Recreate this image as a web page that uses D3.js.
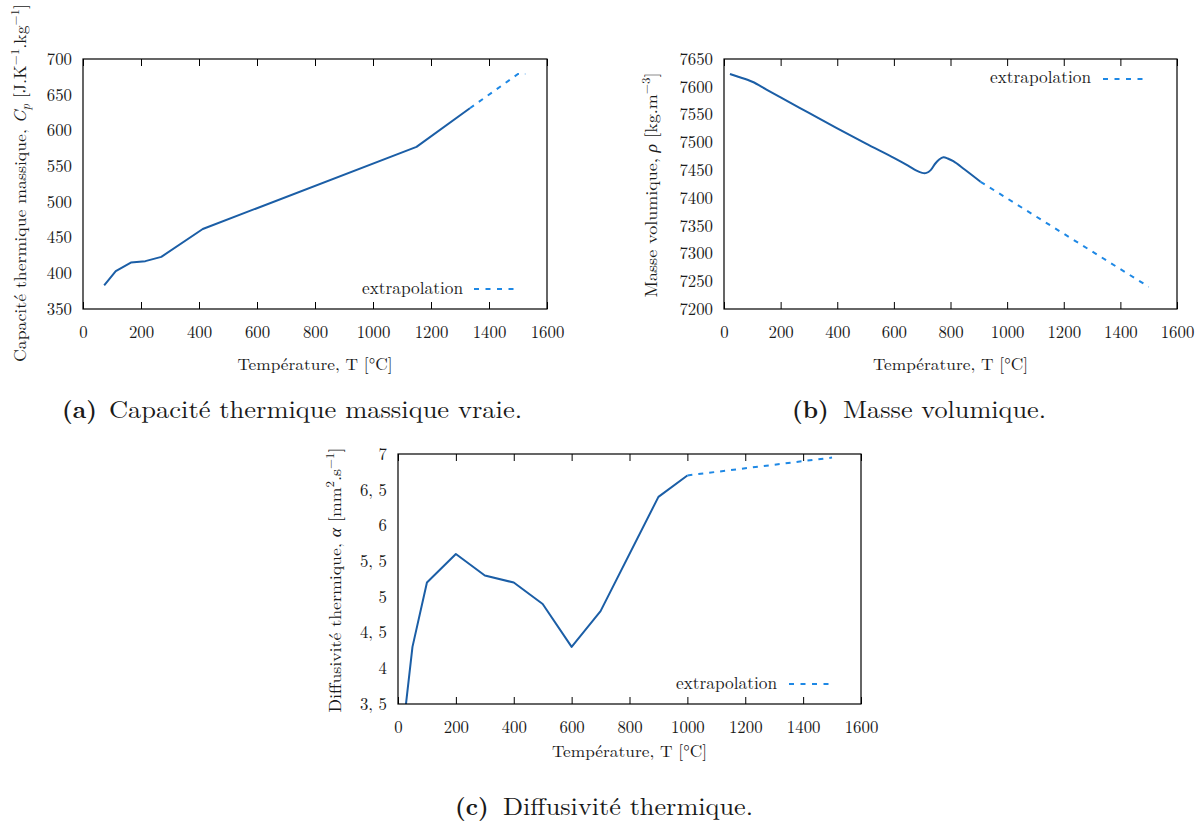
<!DOCTYPE html>
<html><head><meta charset="utf-8">
<script src="https://cdn.jsdelivr.net/npm/d3@7"></script>
<style>
body{margin:0;background:#fff}
svg{display:block}
</style>
</head><body>
<svg id="chart" width="1200" height="822"></svg>
<script>
// ---------- data ----------
const tempTicks = [0,200,400,600,800,1000,1200,1400,1600];
const cpTicks = [350,400,450,500,550,600,650,700];
const rhoTicks = [7200,7250,7300,7350,7400,7450,7500,7550,7600,7650];
const alphaTicks = [3.5,4,4.5,5,5.5,6,6.5,7];
const alphaTickLabels = ["3, 5","4","4, 5","5","5, 5","6","6, 5","7"];

const cpTemp = [73,113,165,215,270,413,1150,1334];
const cpVal  = [383,403,415,417,423,462,577,631];
const cpExtTemp = [1334,1500,1525];
const cpExtVal  = [631,679,679];

const rhoTemp = [21,50,100,150,200,300,400,500,600,650,680,700,715,730,745,760,775,790,810,850,906];
const rhoVal  = [7623,7618,7609,7595,7581,7553,7525,7498,7472,7458,7449,7445,7445,7450,7461,7469,7473,7471,7466,7451,7429];
const rhoExtTemp = [906,1500];
const rhoExtVal  = [7429,7240];

const alphaTemp = [20,50,100,200,300,400,500,600,700,900,1000];
const alphaVal  = [3.23,4.3,5.2,5.6,5.3,5.2,4.9,4.3,4.8,6.4,6.7];
const alphaExtTemp = [1000,1500];
const alphaExtVal  = [6.7,6.95];

const legendLabel = "extrapolation";
const xTitle = "Température, T [°C]";

// ---------- drawing ----------
const svg = d3.select("#chart");
const SOLID = "#1b5ea6", DASH = "#1e88e5";
const FONT = "'Latin Modern Roman','Liberation Serif','DejaVu Serif',serif";
const INK = "#1a1a1a";

function txt(sel){ return sel.style("font-family",FONT).style("fill",INK); }

function panel(o){
  const g = svg.append("g").attr("transform",`translate(${o.left},${o.top})`);
  const x = d3.scaleLinear().domain([0,1600]).range([0,o.w]);
  const y = d3.scaleLinear().domain(o.yDomain).range([o.h,0]);
  const cid = "clip"+o.id;
  g.append("clipPath").attr("id",cid).append("rect").attr("width",o.w).attr("height",o.h);

  const bx = g.append("g").attr("transform",`translate(0,${o.h})`)
    .call(d3.axisBottom(x).tickValues(tempTicks).tickSizeInner(-7).tickSizeOuter(0).tickPadding(17).tickFormat(d3.format("d")));
  const tx = g.append("g")
    .call(d3.axisTop(x).tickValues(tempTicks).tickSizeInner(-7).tickSizeOuter(0).tickFormat(""));
  const ly = g.append("g")
    .call(d3.axisLeft(y).tickValues(o.yTicks).tickSize(0).tickPadding(11).tickFormat(o.fmt));
  [bx,tx,ly].forEach(a=>{
    a.select(".domain").remove();
    a.selectAll("line").attr("stroke","#000").attr("stroke-width",1);
    txt(a.selectAll("text")).style("font-size","16.8px");
  });

  const line = d3.line().x(d=>x(d[0])).y(d=>y(d[1]));
  if(o.curve) line.curve(o.curve);
  g.append("path").datum(d3.zip(o.xs,o.ys)).attr("clip-path",`url(#${cid})`)
    .attr("d",line).attr("fill","none").attr("stroke",SOLID).attr("stroke-width",2).attr("stroke-linejoin","round");
  const line2 = d3.line().x(d=>x(d[0])).y(d=>y(d[1]));
  g.append("path").datum(d3.zip(o.exs,o.eys)).attr("clip-path",`url(#${cid})`)
    .attr("d",line2).attr("fill","none").attr("stroke",DASH).attr("stroke-width",2).attr("stroke-dasharray","5,6");

  g.append("rect").attr("width",o.w).attr("height",o.h).attr("fill","none").attr("stroke","#000").attr("stroke-width",1.2);

  txt(g.append("text")).attr("x",o.lg.tx).attr("y",o.lg.ty).style("font-size","17px")
    .attr("textLength",101).attr("lengthAdjust","spacingAndGlyphs").text(legendLabel);
  g.append("line").attr("x1",o.lg.d0).attr("x2",o.lg.d1).attr("y1",o.lg.dy).attr("y2",o.lg.dy)
    .attr("stroke",DASH).attr("stroke-width",2).attr("stroke-dasharray","5,6.5");

  txt(g.append("text")).attr("x",o.w/2).attr("y",o.h+o.xtDy).attr("text-anchor","middle").style("font-size","16.5px")
    .attr("textLength",155).attr("lengthAdjust","spacingAndGlyphs").text(xTitle);

  const yt = txt(svg.append("text")).attr("transform",`translate(${o.yt.x},${o.yt.y}) rotate(-90)`)
    .attr("text-anchor","middle").style("font-size","16.5px")
    .attr("textLength",o.yt.len).attr("lengthAdjust","spacingAndGlyphs");
  o.yt.parts.forEach(p=>{
    const t = yt.append("tspan").text(p.t);
    if(p.it) t.style("font-style","italic");
    if(p.sup){ t.attr("dy",-7).style("font-size","12px"); }
    if(p.sub){ t.attr("dy",4).style("font-size","12px"); }
    if(p.back) t.attr("dy",p.back);
  });

  txt(svg.append("text")).attr("x",o.cap.x0).attr("y",o.cap.y).style("font-size","24px").style("font-weight","bold").text(o.cap.lab);
  txt(svg.append("text")).attr("x",o.cap.x1).attr("y",o.cap.y).style("font-size","24px")
    .attr("textLength",o.cap.len).attr("lengthAdjust","spacingAndGlyphs").text(o.cap.text);
}

panel({id:"a",left:83,top:59,w:464,h:250,yDomain:[350,700],yTicks:cpTicks,fmt:d3.format("d"),
  xs:cpTemp,ys:cpVal,exs:cpExtTemp,eys:cpExtVal,
  lg:{tx:279,ty:235,d0:391,d1:435,dy:230},xtDy:61,
  yt:{x:26,y:183,len:358,parts:[{t:"Capacité thermique massique, "},{t:"C",it:true},{t:"p",it:true,sub:true},
     {t:" [J.K",back:-4},{t:"−1",sup:true},{t:".kg",back:7},{t:"−1",sup:true},{t:"]",back:7}]},
  cap:{x0:62,x1:109,y:418,lab:"(a)",text:"Capacité thermique massique vraie.",len:413}});

panel({id:"b",left:724,top:59,w:453,h:250,yDomain:[7200,7650],yTicks:rhoTicks,fmt:d3.format("d"),
  xs:rhoTemp,ys:rhoVal,exs:rhoExtTemp,eys:rhoExtVal,curve:d3.curveCatmullRom.alpha(0.5),
  lg:{tx:266,ty:24,d0:379,d1:423,dy:20},xtDy:61,
  yt:{x:657,y:185,len:225,parts:[{t:"Masse volumique, "},{t:"ρ",it:true},{t:" [kg.m"},{t:"−3",sup:true},{t:"]",back:7}]},
  cap:{x0:792,x1:843,y:418,lab:"(b)",text:"Masse volumique.",len:203}});

panel({id:"c",left:398,top:454,w:463,h:250,yDomain:[3.5,7],yTicks:alphaTicks,
  fmt:(d)=>alphaTickLabels[alphaTicks.indexOf(d)],
  xs:alphaTemp,ys:alphaVal,exs:alphaExtTemp,eys:alphaExtVal,
  lg:{tx:278,ty:235,d0:391,d1:435,dy:230},xtDy:53,
  yt:{x:341,y:580,len:265,parts:[{t:"Diffusivité thermique, "},{t:"α",it:true},{t:" [mm"},{t:"2",sup:true},{t:".s",back:7},{t:"−1",sup:true},{t:"]",back:7}]},
  cap:{x0:455,x1:503,y:815,lab:"(c)",text:"Diffusivité thermique.",len:250}});
</script>
</body></html>
